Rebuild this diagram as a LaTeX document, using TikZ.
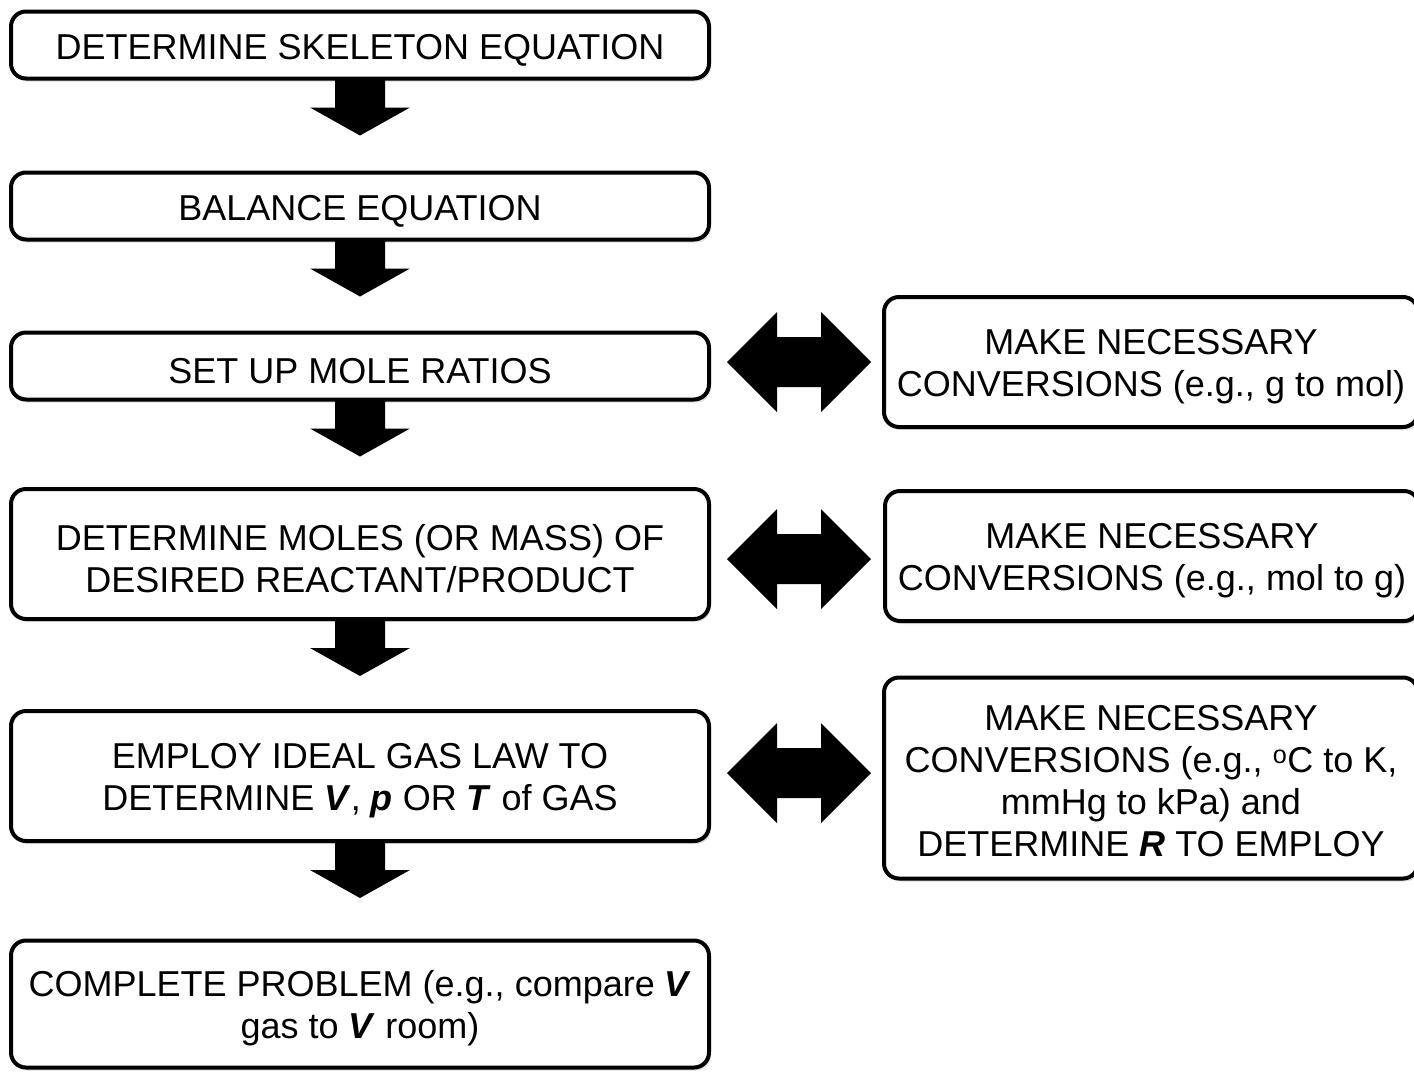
\documentclass[tikz,border=0pt]{standalone}
\usepackage{fontspec}
\setmainfont{Liberation Sans}
\usetikzlibrary{shadows}
\newcommand{\bi}[1]{\textbf{\textit{#1}}}
\newcommand{\st}{\rule{0pt}{35pt}}
\newcommand{\sts}{\rule{0pt}{31pt}}
\tikzset{
  box/.style={draw=black, line width=4pt, rounded corners=15pt, fill=white,
    align=center, inner sep=0pt, minimum width=698pt,
    font=\fontsize{36}{42}\selectfont,
    drop shadow={shadow xshift=2pt, shadow yshift=-3pt, opacity=0.25}},
  rbox/.style={box, minimum width=534pt},
  blk/.style={fill=black, draw=none}
}
\begin{document}
\begin{tikzpicture}[x=1pt,y=-1pt]
\useasboundingbox (0,0) rectangle (1414,1072);
\node[box, minimum height=67pt] (b1) at (360,45) {\st DETERMINE SKELETON EQUATION};
\node[box, minimum height=67pt] (b2) at (360,206) {\st BALANCE EQUATION};
\node[box, minimum height=67pt] (b3) at (360,366) {\st SET UP MOLE RATIOS};
\node[box, minimum height=130pt] (b4) at (360,554) {\st DETERMINE MOLES (OR MASS) OF\\DESIRED REACTANT/PRODUCT};
\node[box, minimum height=130pt] (b5) at (360,776) {\st EMPLOY IDEAL GAS LAW TO\\DETERMINE \bi{V}, \bi{p} OR \bi{T} of GAS};
\node[box, minimum height=127pt] (b6) at (360,1004) {\st COMPLETE PROBLEM (e.g., compare \bi{V}\\gas to \bi{V} room)};
\node[rbox, minimum height=130pt] (r1) at (1151,362) {\st MAKE NECESSARY\\CONVERSIONS (e.g., g to mol)};
\node[rbox, minimum height=130pt] (r2) at (1152,556) {\st MAKE NECESSARY\\CONVERSIONS (e.g., mol to g)};
\node[rbox, minimum height=201pt] (r3) at (1151,778) {\sts MAKE NECESSARY\\CONVERSIONS (e.g., \textsuperscript{o}C to K,\\mmHg to kPa) and\\DETERMINE \bi{R} TO EMPLOY};
% down arrows
\foreach \n in {b1,b2,b3,b4,b5}{
  \begin{scope}[shift={(\n.south)}]
    \fill[blk] (-25,-2)--(-25,27)--(-50,27)--(0,55)--(50,27)--(25,27)--(25,-2)--cycle;
  \end{scope}
}
% double arrows
\coordinate (d1) at (799,362);
\coordinate (d2) at (799,559);
\coordinate (d3) at (799,773);
\foreach \d in {d1,d2,d3}{
  \begin{scope}[shift={(\d)}]
    \fill[blk] (-72,0)--(-22,-50)--(-22,-25)--(22,-25)--(22,-50)--(72,0)--(22,50)--(22,25)--(-22,25)--(-22,50)--cycle;
  \end{scope}
}
\end{tikzpicture}
\end{document}
